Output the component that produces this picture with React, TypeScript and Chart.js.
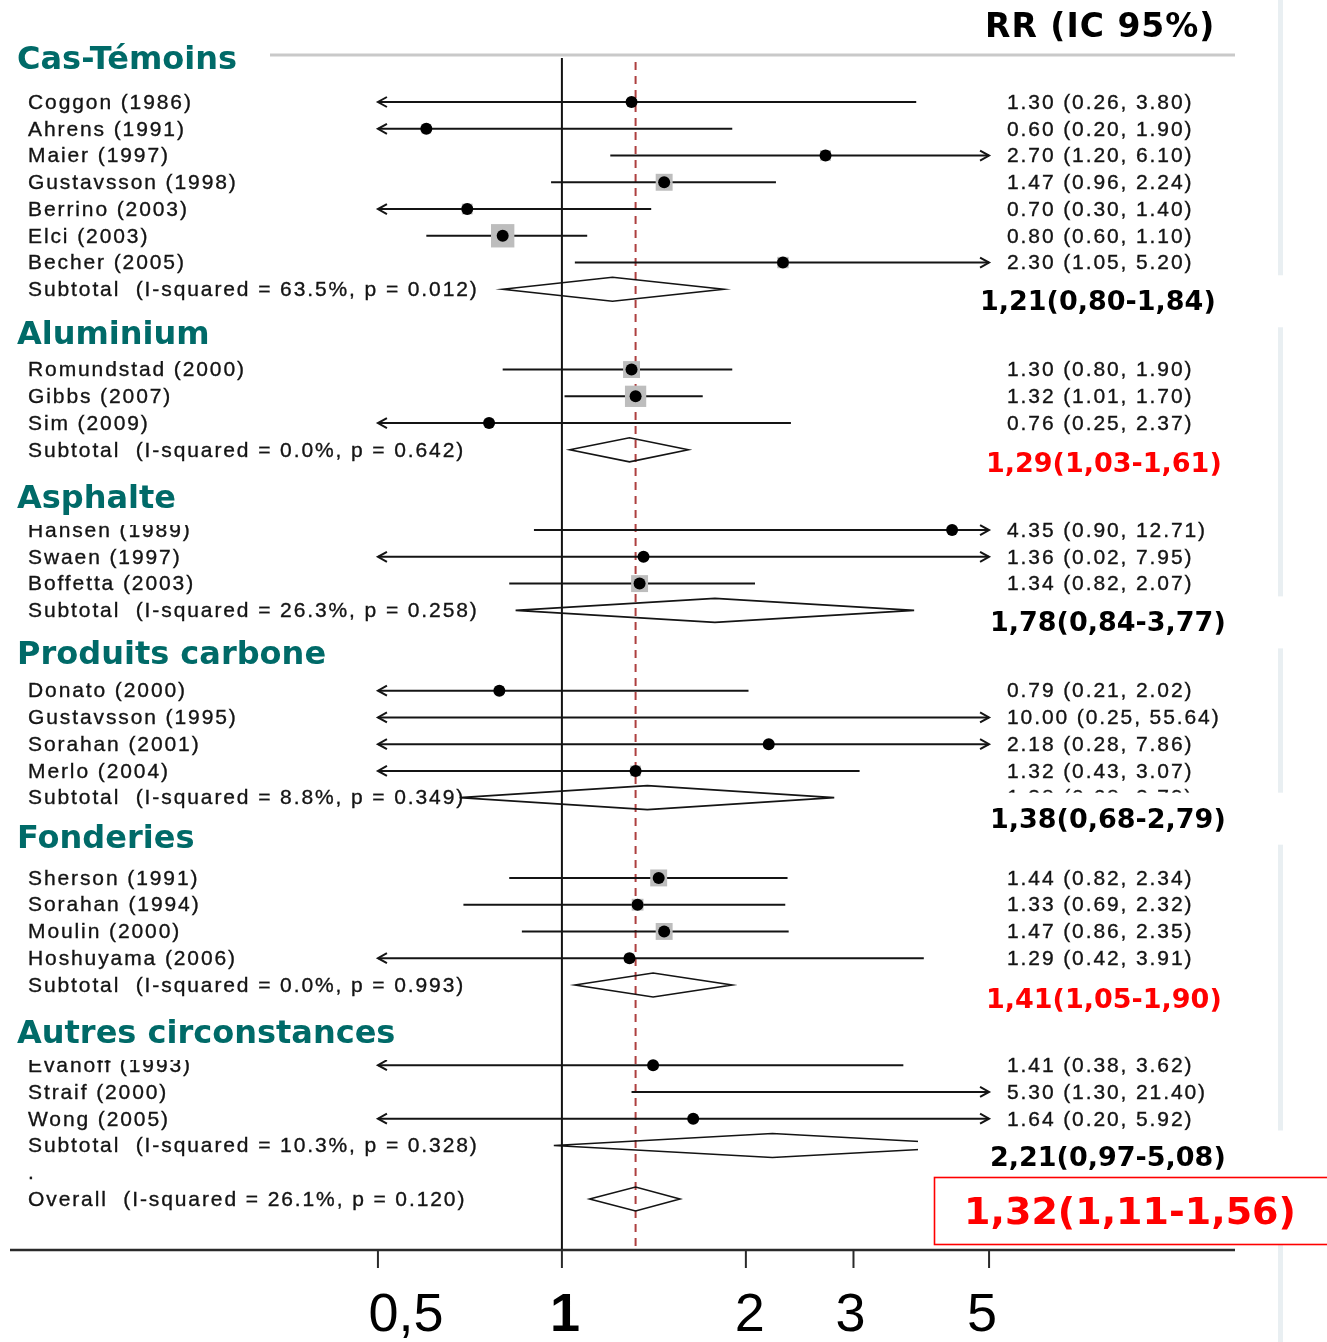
import { useEffect, useRef } from "react";
import { Chart, registerables } from "chart.js";

Chart.register(...registerables);

// ---- Data -----------------------------------------------------------------

const groupNames = [
  "Cas-Témoins",
  "Aluminium",
  "Asphalte",
  "Produits carbone",
  "Fonderies",
  "Autres circonstances",
];

const studyNames = [
  "Coggon (1986)", "Ahrens (1991)", "Maier (1997)", "Gustavsson (1998)", "Berrino (2003)", "Elci (2003)", "Becher (2005)",
  "Romundstad (2000)", "Gibbs (2007)", "Sim (2009)",
  "Hansen (1989)", "Swaen (1997)", "Boffetta (2003)",
  "Donato (2000)", "Gustavsson (1995)", "Sorahan (2001)", "Merlo (2004)",
  "Sherson (1991)", "Sorahan (1994)", "Moulin (2000)", "Hoshuyama (2006)",
  "Evanoff (1993)", "Straif (2000)", "Wong (2005)",
];
const studyGroup = [0, 0, 0, 0, 0, 0, 0, 1, 1, 1, 2, 2, 2, 3, 3, 3, 3, 4, 4, 4, 4, 5, 5, 5];
const studyRR = [1.30, 0.60, 2.70, 1.47, 0.70, 0.80, 2.30, 1.30, 1.32, 0.76, 4.35, 1.36, 1.34, 0.79, 10.00, 2.18, 1.32, 1.44, 1.33, 1.47, 1.29, 1.41, 5.30, 1.64];
const studyLow = [0.26, 0.20, 1.20, 0.96, 0.30, 0.60, 1.05, 0.80, 1.01, 0.25, 0.90, 0.02, 0.82, 0.21, 0.25, 0.28, 0.43, 0.82, 0.69, 0.86, 0.42, 0.38, 1.30, 0.20];
const studyHigh = [3.80, 1.90, 6.10, 2.24, 1.40, 1.10, 5.20, 1.90, 1.70, 2.37, 12.71, 7.95, 2.07, 2.02, 55.64, 7.86, 3.07, 2.34, 2.32, 2.35, 3.91, 3.62, 21.40, 5.92];
// study weights (%), used for the size of the grey boxes
const studyWeight = [1.5, 2.0, 2.5, 6.2, 2.5, 11.8, 2.8, 6.2, 9.8, 1.8, 1.2, 0.5, 6.2, 1.8, 0.4, 1.0, 2.5, 6.2, 3.0, 6.2, 2.0, 1.5, 1.0, 1.0];

const subtotalRR = [1.21, 1.29, 1.78, 1.38, 1.41, 2.21];
const subtotalLow = [0.80, 1.03, 0.84, 0.68, 1.05, 0.97];
const subtotalHigh = [1.84, 1.61, 3.77, 2.79, 1.90, 5.08];
const subtotalI2 = [63.5, 0.0, 26.3, 8.8, 0.0, 10.3];
const subtotalP = [0.012, 0.642, 0.258, 0.349, 0.993, 0.328];

const overallRR = 1.32;
const overallLow = 1.11;
const overallHigh = 1.56;
const overallI2 = 26.1;
const overallP = 0.120;

const xTickValues = [0.5, 1, 2, 3, 5];
const xTickLabels = ["0,5", "1", "2", "3", "5"];

// ---- Layout -----------------------------------------------------------------

const W = 1327;
const H = 1342;
const X_MIN = 0.125;
const X_MAX = 12.63;
const Y_MIN = -1.6445;
const Y_MAX = 42.906;
const CLIP_LO = xTickValues[0];
const CLIP_HI = xTickValues[xTickValues.length - 1];

const headerY = [58, 333, 497, 653, 837, 1032];
const subLabelDy = [11, 12, 11, 20, 13, 10];
const subLabelX = [980, 986, 990, 990, 986, 990];
const tickLabelNudge = [28, 3, 4, -3, -7];
const BOLD_DY = 3; // DejaVu glyphs sit a little high with a middle baseline

const TEAL = "#006a68";
const RED = "#ff0000";
const INK = "#141414";
const STATA_FONT = '21px "Liberation Sans"';
const BOLD = '"DejaVu Sans"';

// row index of each line in the forest plot
const studyRow: number[] = [];
const subtotalRow: number[] = [];
let rowCursor = 0;
groupNames.forEach((_, g) => {
  if (g > 0) rowCursor += 2;
  studyGroup.forEach((sg, i) => {
    if (sg === g) {
      studyRow[i] = rowCursor;
      rowCursor++;
    }
  });
  subtotalRow[g] = rowCursor;
  rowCursor++;
});
const dotRow = rowCursor;
const overallRow = rowCursor + 1;

const fmt = (v: number) => v.toFixed(2);
const frCI = (rr: number, lo: number, hi: number) =>
  `${fmt(rr)}(${fmt(lo)}-${fmt(hi)})`.replace(/\./g, ",");
const stataCI = (rr: number, lo: number, hi: number) => `${fmt(rr)} (${fmt(lo)}, ${fmt(hi)})`;
const hetText = (name: string, i2: number, p: number) =>
  `${name}  (I-squared = ${i2.toFixed(1)}%, p = ${p.toFixed(3)})`;

// ---- Drawing helpers ----------------------------------------------------------

function seg(ctx: CanvasRenderingContext2D, x1: number, y1: number, x2: number, y2: number) {
  ctx.beginPath();
  ctx.moveTo(x1, y1);
  ctx.lineTo(x2, y2);
  ctx.stroke();
}

function stataText(ctx: CanvasRenderingContext2D, text: string, x: number, y: number) {
  ctx.font = STATA_FONT;
  (ctx as any).letterSpacing = "1.9px";
  ctx.fillStyle = INK;
  ctx.strokeStyle = INK;
  ctx.lineWidth = 0.35;
  ctx.textAlign = "left";
  ctx.textBaseline = "middle";
  ctx.fillText(text, x, y + 1);
  ctx.strokeText(text, x, y + 1);
  (ctx as any).letterSpacing = "0px";
}

function diamond(chart: Chart, rr: number, lo: number, hi: number, row: number) {
  const ctx = chart.ctx;
  const xs = chart.scales.x;
  const y = chart.scales.y.getPixelForValue(row);
  const h = 12;
  ctx.beginPath();
  ctx.moveTo(xs.getPixelForValue(lo), y);
  ctx.lineTo(xs.getPixelForValue(rr), y - h);
  ctx.lineTo(xs.getPixelForValue(hi), y);
  ctx.lineTo(xs.getPixelForValue(rr), y + h);
  ctx.closePath();
  ctx.strokeStyle = INK;
  ctx.lineWidth = 1.6;
  ctx.stroke();
}

const forestPlugin = {
  id: "forest",
  beforeDatasetsDraw(chart: Chart) {
    const ctx = chart.ctx;
    const xs = chart.scales.x;
    const ys = chart.scales.y;
    const { top, bottom, right } = chart.chartArea;
    ctx.save();

    ctx.fillStyle = "#ffffff";
    ctx.fillRect(0, 0, W, H);
    // pale strip at the right edge of the slide
    ctx.fillStyle = "#e9eff2";
    ctx.fillRect(1278, 0, 5, H);

    // rule under the title
    ctx.strokeStyle = "#c9c9c9";
    ctx.lineWidth = 3;
    seg(ctx, 270, 55, right, 55);

    // line of no effect
    const x1 = xs.getPixelForValue(1);
    ctx.strokeStyle = "#111";
    ctx.lineWidth = 2;
    seg(ctx, x1, top, x1, bottom);

    // overall estimate (dashed)
    const xo = xs.getPixelForValue(overallRR);
    ctx.strokeStyle = "#ad3f3f";
    ctx.setLineDash([8, 6]);
    seg(ctx, xo, top + 4, xo, bottom);
    ctx.setLineDash([]);

    // confidence intervals with arrows when they leave the plotted range
    ctx.strokeStyle = INK;
    ctx.lineWidth = 2;
    studyRR.forEach((_, i) => {
      const y = ys.getPixelForValue(studyRow[i]);
      const lo = Math.max(studyLow[i], CLIP_LO);
      const hi = Math.min(studyHigh[i], CLIP_HI);
      const xl = xs.getPixelForValue(lo);
      const xr = xs.getPixelForValue(hi);
      seg(ctx, xl, y, xr, y);
      if (studyLow[i] < CLIP_LO) {
        ctx.beginPath();
        ctx.moveTo(xl + 9, y - 5);
        ctx.lineTo(xl, y);
        ctx.lineTo(xl + 9, y + 5);
        ctx.stroke();
      }
      if (studyHigh[i] > CLIP_HI) {
        ctx.beginPath();
        ctx.moveTo(xr - 9, y - 5);
        ctx.lineTo(xr, y);
        ctx.lineTo(xr - 9, y + 5);
        ctx.stroke();
      }
    });

    // x axis
    ctx.strokeStyle = "#2a2a2a";
    ctx.lineWidth = 2.5;
    seg(ctx, chart.chartArea.left, bottom, right, bottom);
    ctx.lineWidth = 2;
    xTickValues.forEach((v, k) => {
      const x = xs.getPixelForValue(v);
      seg(ctx, x, bottom, x, bottom + 18);
      ctx.font = (v === 1 ? "bold " : "") + '54px "Liberation Sans"';
      ctx.fillStyle = "#000";
      ctx.textAlign = "center";
      ctx.textBaseline = "middle";
      ctx.fillText(xTickLabels[k], x + tickLabelNudge[k], 1313 + BOLD_DY);
    });
    ctx.restore();
  },
  afterDatasetsDraw(chart: Chart) {
    const ctx = chart.ctx;
    const ys = chart.scales.y;
    ctx.save();

    // subgroup and overall diamonds
    subtotalRR.forEach((rr, g) => diamond(chart, rr, subtotalLow[g], subtotalHigh[g], subtotalRow[g]));
    diamond(chart, overallRR, overallLow, overallHigh, overallRow);

    // left column: study names and heterogeneity
    studyNames.forEach((name, i) => stataText(ctx, name, 28, ys.getPixelForValue(studyRow[i])));
    subtotalRR.forEach((_, g) =>
      stataText(ctx, hetText("Subtotal", subtotalI2[g], subtotalP[g]), 28, ys.getPixelForValue(subtotalRow[g]))
    );
    stataText(ctx, ".", 28, ys.getPixelForValue(dotRow));
    stataText(ctx, hetText("Overall", overallI2, overallP), 28, ys.getPixelForValue(overallRow));

    // right column: RR (95% CI)
    studyRR.forEach((rr, i) =>
      stataText(ctx, stataCI(rr, studyLow[i], studyHigh[i]), 1007, ys.getPixelForValue(studyRow[i]))
    );
    subtotalRR.forEach((rr, g) =>
      stataText(ctx, stataCI(rr, subtotalLow[g], subtotalHigh[g]), 1007, ys.getPixelForValue(subtotalRow[g]))
    );
    stataText(ctx, stataCI(overallRR, overallLow, overallHigh), 1007, ys.getPixelForValue(overallRow));

    // section headings
    ctx.textAlign = "left";
    ctx.textBaseline = "middle";
    groupNames.forEach((name, g) => {
      ctx.font = `bold 32px ${BOLD}`;
      const w = ctx.measureText(name).width;
      ctx.fillStyle = "#ffffff";
      ctx.fillRect(10, headerY[g] - 24, w + 20, 52);
      ctx.fillStyle = TEAL;
      ctx.fillText(name, 17, headerY[g] + BOLD_DY);
    });

    // title of the estimate column
    ctx.font = `bold 33px ${BOLD}`;
    (ctx as any).letterSpacing = "1px";
    ctx.fillStyle = "#000";
    ctx.fillText("RR (IC 95%)", 985, 25 + BOLD_DY);
    (ctx as any).letterSpacing = "0px";

    // pooled estimates per subgroup (red when the interval excludes 1)
    subtotalRR.forEach((rr, g) => {
      const y = ys.getPixelForValue(subtotalRow[g]) + subLabelDy[g];
      const signif = subtotalLow[g] > 1;
      ctx.fillStyle = "#ffffff";
      if (signif) ctx.fillRect(975, y - 24, 265, 48);
      else ctx.fillRect(918, y - 25, 374, 52);
      ctx.font = `bold 27px ${BOLD}`;
      ctx.fillStyle = signif ? RED : "#000";
      ctx.fillText(frCI(rr, subtotalLow[g], subtotalHigh[g]), subLabelX[g], y + BOLD_DY);
    });

    // overall estimate in a red frame
    ctx.fillStyle = "#ffffff";
    ctx.fillRect(934, 1177, 400, 67);
    ctx.strokeStyle = RED;
    ctx.lineWidth = 1.6;
    ctx.strokeRect(934.5, 1177.5, 400, 67);
    ctx.font = `bold 38px ${BOLD}`;
    ctx.fillStyle = RED;
    ctx.textAlign = "center";
    ctx.fillText(frCI(overallRR, overallLow, overallHigh), 1130, 1211 + BOLD_DY);

    ctx.restore();
  },
};

// ---- Component ----------------------------------------------------------------

export default function App() {
  const ref = useRef<HTMLCanvasElement>(null);

  useEffect(() => {
    if (!ref.current) return;
    const inRange = studyRR.map((rr) => rr >= CLIP_LO && rr <= CLIP_HI);
    const boxes = studyRR
      .map((rr, i) => ({ x: rr, y: studyRow[i], r: (6.8 * Math.sqrt(studyWeight[i])) / 2 / Math.SQRT1_2 }))
      .filter((_, i) => inRange[i]);
    const dots = studyRR.map((rr, i) => ({ x: rr, y: studyRow[i] })).filter((_, i) => inRange[i]);

    const chart = new Chart(ref.current, {
      type: "scatter",
      data: {
        datasets: [
          {
            data: dots,
            order: 0,
            pointStyle: "circle",
            pointRadius: 6,
            pointBackgroundColor: "#000",
            pointBorderColor: "#000",
            pointBorderWidth: 0,
          },
          {
            data: boxes,
            order: 1,
            pointStyle: "rect",
            pointRadius: boxes.map((b) => b.r),
            pointBackgroundColor: "#bdbdbd",
            pointBorderColor: "#bdbdbd",
            pointBorderWidth: 0,
          },
        ],
      },
      options: {
        animation: false,
        responsive: false,
        events: [],
        layout: { autoPadding: false, padding: { left: 10, right: W - 1235, top: 58, bottom: H - 1250 } },
        plugins: { legend: { display: false }, tooltip: { enabled: false } },
        scales: {
          x: { type: "logarithmic", min: X_MIN, max: X_MAX, bounds: "data", display: false },
          y: { type: "linear", min: Y_MIN, max: Y_MAX, reverse: true, bounds: "data", display: false },
        },
      },
      plugins: [forestPlugin],
    });
    return () => chart.destroy();
  }, []);

  return (
    <div style={{ position: "absolute", left: 0, top: 0, width: W, height: H, background: "#fff" }}>
      <canvas ref={ref} width={W} height={H} style={{ display: "block" }} />
    </div>
  );
}
